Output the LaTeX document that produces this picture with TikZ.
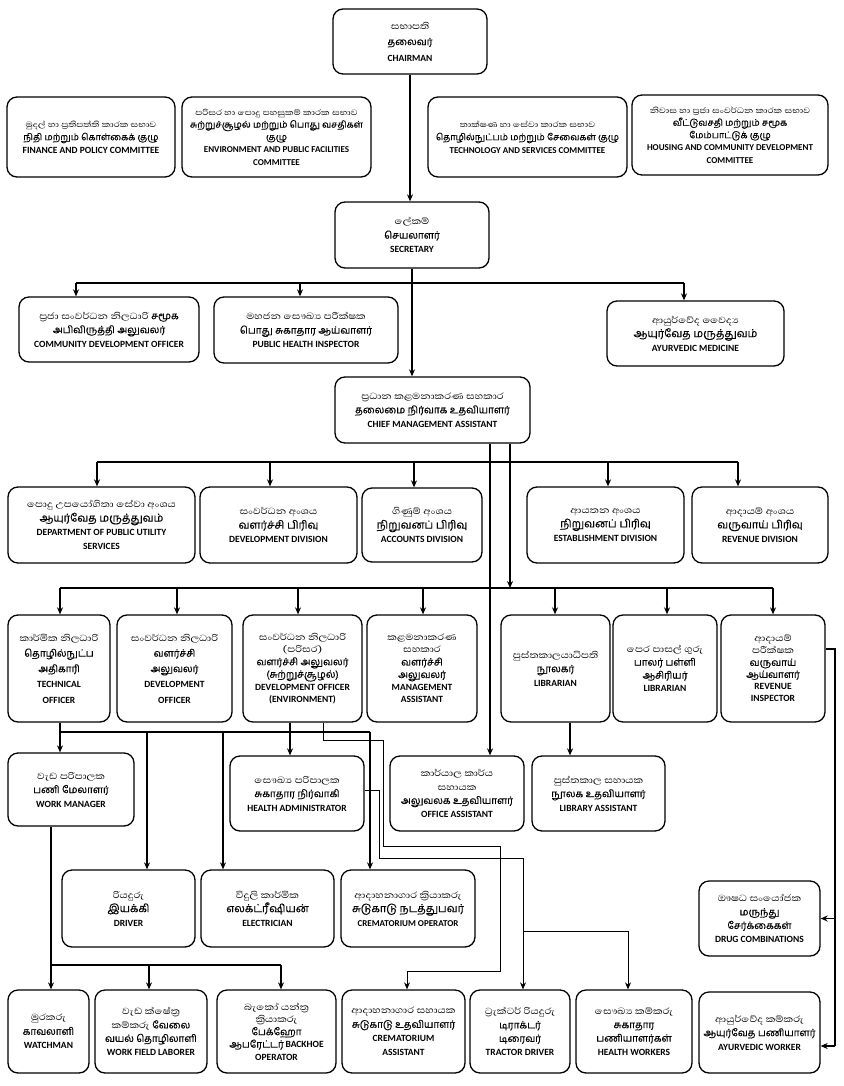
\documentclass[tikz,border=0pt]{standalone}
\usepackage{fontspec}
\setmainfont{Carlito}
\newfontfamily\sinf[Script=Sinhala,FakeStretch=1.2]{Abhaya Libre}
\newfontfamily\tamf[Script=Tamil,FakeBold=0.4]{Hind Madurai}
\usetikzlibrary{arrows.meta}
\newcommand\si[1]{{\sinf\fontsize{11.3}{13}\selectfont #1}}
\newcommand\siS[1]{{\sinf\fontsize{10}{13}\selectfont #1}}
\newcommand\ta[1]{{\tamf\fontsize{10}{13}\selectfont #1}}
\newcommand\taS[1]{{\tamf\fontsize{9.2}{13}\selectfont #1}}
\newcommand\taL[1]{{\tamf\fontsize{11}{13}\selectfont #1}}
\newcommand\en[1]{{\fontsize{9.5}{13}\selectfont\bfseries #1}}
\newcommand\enS[1]{{\fontsize{9}{13}\selectfont\bfseries #1}}
\newcommand\bs[1]{\fontsize{8}{#1}\selectfont\lineskiplimit=-50pt\lineskip=0pt}
\tikzset{
  box/.style={draw, rounded corners=10pt, line width=1.3pt, align=center, inner sep=1pt, font=\bs{14}},
  line/.style={line width=1.3pt},
  arr/.style={line width=1.3pt, -{Stealth[length=7pt,width=6pt]}},
  tline/.style={line width=1pt},
  tarr/.style={line width=1pt, -{Stealth[length=7pt,width=6pt]}}
}
\begin{document}
\begin{tikzpicture}[x=1pt,y=-1pt]
\fill[white] (0,0) rectangle (843,1086);
\useasboundingbox (0,0) rectangle (843,1086);

% row 0
\node[box,minimum width=154,minimum height=65,font=\bs{16}] (chair) at (410,41.5) {\si{සභාපති}\\\ta{தலைவர்}\\\en{CHAIRMAN}};
% committees
\node[box,minimum width=168,minimum height=80,font=\bs{13}] (fin) at (91,137) {\siS{මුදල් හා ප්^^^^200dරතිපත්ති කාරක සභාව}\\\taS{நிதி மற்றும் கொள்கைக் குழு}\\\en{FINANCE AND POLICY COMMITTEE}};
\node[box,minimum width=189,minimum height=80,font=\bs{12.5}] (env) at (276.5,137) {\siS{පරිසර හා පොදු පහසුකම් කාරක සභාව}\\\taS{சுற்றுச்சூழல் மற்றும் பொது வசதிகள்}\\\taS{குழு}\\\enS{ENVIRONMENT AND PUBLIC FACILITIES}\\\enS{COMMITTEE}};
\node[box,minimum width=199,minimum height=80,font=\bs{13}] (tech) at (527.5,137) {\siS{තාක්ෂණ හා සේවා කාරක සභාව}\\\taS{தொழில்நுட்பம் மற்றும் சேவைகள் குழு}\\\enS{TECHNOLOGY AND SERVICES COMMITTEE}};
\node[box,minimum width=196,minimum height=80,font=\bs{12.5}] (hous) at (730,135) {\siS{නිවාස හා ප්^^^^200dරජා සංවර්ධන කාරක සභාව}\\\taS{வீட்டுவசதி மற்றும் சமூக}\\\taS{மேம்பாட்டுக் குழு}\\\enS{HOUSING AND COMMUNITY DEVELOPMENT}\\\enS{COMMITTEE}};
% secretary
\node[box,minimum width=154,minimum height=66] (sec) at (412,235) {\si{ලේකම්}\\\ta{செயலாளர்}\\\en{SECRETARY}};
% row 2
\node[box,minimum width=180,minimum height=65] (cdo) at (109,329.5) {\si{ප්^^^^200dරජා සංවර්ධන නිලධාරි \ta{சமூக}}\\\ta{அபிவிருத்தி அலுவலர்}\\\en{COMMUNITY DEVELOPMENT OFFICER}};
\node[box,minimum width=184,minimum height=66] (phi) at (306,330) {\si{මහජන සෞඛ්^^^^200dය පරීක්ෂක}\\\ta{பொது சுகாதார ஆய்வாளர்}\\\en{PUBLIC HEALTH INSPECTOR}};
\node[box,minimum width=177,minimum height=65] (am) at (695.5,333.5) {\si{ආයුර්වේද වෛද්^^^^200dය}\\\taL{ஆயுர்வேத மருத்துவம்}\\\en{AYURVEDIC MEDICINE}};
% chief management assistant
\node[box,minimum width=195,minimum height=66] (cma) at (432.5,410) {\si{ප්^^^^200dරධාන කළමනාකරණ සහකාර}\\\ta{தலைமை நிர்வாக உதவியாளர்}\\\en{CHIEF MANAGEMENT ASSISTANT}};
% row 3
\node[box,minimum width=187,minimum height=76] (dpu) at (101.5,525) {\si{පොදු උපයෝගිතා සේවා අංශය}\\\taL{ஆயுர்வேத மருத்துவம்}\\\en{DEPARTMENT OF PUBLIC UTILITY}\\\en{SERVICES}};
\node[box,minimum width=157,minimum height=76] (devd) at (278.5,525) {\si{සංවර්ධන අංශය}\\\taL{வளர்ச்சி பிரிவு}\\\en{DEVELOPMENT DIVISION}};
\node[box,minimum width=120,minimum height=74] (acc) at (422,525) {\si{ගිණුම් අංශය}\\\taL{நிறுவனப் பிரிவு}\\\en{ACCOUNTS DIVISION}};
\node[box,minimum width=157,minimum height=76] (est) at (605.5,525) {\si{ආයතන අංශය}\\\taL{நிறுவனப் பிரிவு}\\\en{ESTABLISHMENT DIVISION}};
\node[box,minimum width=136,minimum height=76] (rev) at (760,525) {\si{ආදායම් අංශය}\\\taL{வருவாய் பிரிவு}\\\en{REVENUE DIVISION}};
% row 4
\node[box,minimum width=102,minimum height=107,font=\bs{15.5}] (tof) at (59,668.5) {\si{කාර්මික නිලධාරි}\\\ta{தொழில்நுட்ப}\\\ta{அதிகாரி}\\\en{TECHNICAL}\\\en{OFFICER}};
\node[box,minimum width=115,minimum height=107,font=\bs{15.5}] (dof) at (174.5,668.5) {\si{සංවර්ධන නිලධාරි}\\\ta{வளர்ச்சி}\\\ta{அலுவலர்}\\\en{DEVELOPMENT}\\\en{OFFICER}};
\node[box,minimum width=119,minimum height=107,font=\bs{12.5}] (doe) at (302.5,668.5) {\si{සංවර්ධන නිලධාරි}\\\si{(පරිසර)}\\\ta{வளர்ச்சி அலுவலர்}\\\ta{(சுற்றுச்சூழல்)}\\\en{DEVELOPMENT OFFICER}\\\en{(ENVIRONMENT)}};
\node[box,minimum width=110,minimum height=107,font=\bs{12.5}] (mas) at (422,668.5) {\si{කළමනාකරණ}\\\si{සහකාර}\\\ta{வளர்ச்சி}\\\ta{அலுவலர்}\\\en{MANAGEMENT}\\\en{ASSISTANT}};
\node[box,minimum width=109,minimum height=107] (lib) at (555.5,668.5) {\si{පුස්තකාලයාධිපති}\\\ta{நூலகர்}\\\en{LIBRARIAN}};
\node[box,minimum width=104,minimum height=107,font=\bs{13}] (pre) at (665,668.5) {\si{පෙර පාසල් ගුරු}\\\ta{பாலர் பள்ளி}\\\ta{ஆசிரியர்}\\\en{LIBRARIAN}};
\node[box,minimum width=104,minimum height=107,font=\bs{12}] (ri) at (773,668.5) {\si{ආදායම්}\\\si{පරීක්ෂක}\\\ta{வருவாய்}\\\ta{ஆய்வாளர்}\\\en{REVENUE}\\\en{INSPECTOR}};
% row 5
\node[box,minimum width=126,minimum height=73] (wm) at (71,789.5) {\si{වැඩ පරිපාලක}\\\ta{பணி மேலாளர்}\\\en{WORK MANAGER}};
\node[box,minimum width=134,minimum height=75] (ha) at (297,793.5) {\si{සෞඛ්^^^^200dය පරිපාලක}\\\ta{சுகாதார நிர்வாகி}\\\en{HEALTH ADMINISTRATOR}};
\node[box,minimum width=134,minimum height=75,font=\bs{13.5}] (oa) at (457,793.5) {\si{කාර්යාල කාර්ය}\\\si{සහායක}\\\ta{அலுவலக உதவியாளர்}\\\en{OFFICE ASSISTANT}};
\node[box,minimum width=133,minimum height=75] (la) at (598.5,793.5) {\si{පුස්තකාල සහායක}\\\ta{நூலக உதவியாளர்}\\\en{LIBRARY ASSISTANT}};
% row 6
\node[box,minimum width=133,minimum height=77] (drv) at (128.5,908.5) {\si{රියදුරු}\\\taL{இயக்கி}\\\en{DRIVER}};
\node[box,minimum width=133,minimum height=77] (ele) at (267.5,908.5) {\si{විදුලි කාර්මික}\\\taL{எலக்ட்ரீஷியன்}\\\en{ELECTRICIAN}};
\node[box,minimum width=134,minimum height=77] (cop) at (408,908.5) {\si{ආදාහනාගාර ක්^^^^200dරියාකරු}\\\taL{சுடுகாடு நடத்துபவர்}\\\enS{CREMATORIUM OPERATOR}};
\node[box,minimum width=121,minimum height=75,font=\bs{13.5}] (drug) at (759.5,918.5) {\si{ඖෂධ සංයෝජක}\\\ta{மருந்து}\\\ta{சேர்க்கைகள்}\\\en{DRUG COMBINATIONS}};
% row 7
\node[box,minimum width=81,minimum height=83] (wat) at (48.5,1031.5) {\si{මුරකරු}\\\ta{காவலாளி}\\\en{WATCHMAN}};
\node[box,minimum width=112,minimum height=83,font=\bs{13.5}] (wfl) at (151,1031.5) {\si{වැඩ ක්ෂේත්^^^^200dර}\\\si{කම්කරු \ta{வேலை}}\\\ta{வயல் தொழிலாளி}\\\en{WORK FIELD LABORER}};
\node[box,minimum width=119,minimum height=83,font=\bs{12.5}] (bho) at (276.5,1031.5) {\si{බැකෝ යන්ත්^^^^200dර}\\\si{ක්^^^^200dරියාකරු}\\\ta{பேக்ஹோ}\\\ta{ஆபரேட்டர்} \en{BACKHOE}\\\en{OPERATOR}};
\node[box,minimum width=123,minimum height=83] (cas) at (403.5,1031.5) {\si{ආදාහනාගාර සහායක}\\\ta{சுடுகாடு உதவியாளர்}\\\en{CREMATORIUM}\\\en{ASSISTANT}};
\node[box,minimum width=100,minimum height=83,font=\bs{13.5}] (trd) at (520,1031.5) {\si{ට්^^^^200dරැක්ටර් රියදුරු}\\\ta{டிராக்டர்}\\\ta{டிரைவர்}\\\en{TRACTOR DRIVER}};
\node[box,minimum width=116,minimum height=83,font=\bs{13.5}] (hw) at (634,1031.5) {\si{සෞඛ්^^^^200dය කම්කරු}\\\ta{சுகாதார}\\\ta{பணியாளர்கள்}\\\en{HEALTH WORKERS}};
\node[box,minimum width=121,minimum height=81] (aw) at (759.5,1032.5) {\si{ආයුර්වේද කම්කරු}\\\ta{ஆயுர்வேத பணியாளர்}\\\en{AYURVEDIC WORKER}};

% connectors
\draw[arr] (chair.south) -- (chair.south |- sec.north);
\draw[arr] (sec.south) -- (sec.south |- cma.north);
\draw[line] (76,283) -- (684,283);
\draw[arr] (76,283) -- (76,283 |- cdo.north);
\draw[arr] (300,283) -- (300,283 |- phi.north);
\draw[arr] (684,283) -- (684,283 |- am.north);

\coordinate (cA) at ([xshift=57.5pt]cma.south);
\coordinate (cB) at ([xshift=77.5pt]cma.south);
\draw[arr] (cA) -- (cA |- oa.north);
\draw[arr] (cB) -- (cB |- 0,588);
\draw[line] (97,462) -- (738,462);
\draw[arr] (97,462) -- (97,462 |- dpu.north);
\draw[arr] (270,462) -- (270,462 |- devd.north);
\draw[arr] (414,462) -- (414,462 |- acc.north);
\draw[arr] (608,462) -- (608,462 |- est.north);
\draw[arr] (738,462) -- (738,462 |- rev.north);

\draw[line] (60,588) -- (773,588);
\draw[arr] (60,588) -- (60,588 |- tof.north);
\draw[arr] (177,588) -- (177,588 |- dof.north);
\draw[arr] (298,588) -- (298,588 |- doe.north);
\draw[arr] (423,588) -- (423,588 |- mas.north);
\draw[arr] (555,588) -- (555,588 |- lib.north);
\draw[arr] (667,588) -- (667,588 |- pre.north);
\draw[arr] (773,588) -- (773,588 |- ri.north);

\draw[arr] (60,0 |- tof.south) -- (60,0 |- wm.north);
\draw[line] (60,732) -- (370,732);
\draw[arr] (147,732) -- (147,732 |- drv.north);
\draw[arr] (223,732) -- (223,732 |- ele.north);
\draw[arr] (370,732) -- (370,732 |- cop.north);

\draw[arr] (290,0 |- doe.south) -- (290,0 |- ha.north);
\draw[tarr] (323,0 |- doe.south) -- (323,740) -- (383,740) -- (383,846) -- (500,846) -- (500,971) -- (407,971) -- (407,0 |- cas.north);
\draw[tline] (ha.east |- 0,790) -- (379,790) -- (379,858) -- (523,858);
\draw[tarr] (523,858) -- (523,0 |- trd.north);
\draw[tarr] (523,931) -- (628,931) -- (628,0 |- hw.north);

\draw[arr] (570,0 |- lib.south) -- (570,0 |- la.north);

\draw[line] (ri.east |- 0,649) -- (835,649) -- (835,1046);
\draw[arr] (835,0 |- drug.east) -- (drug.east);
\draw[arr] (835,1046) -- (aw.east |- 0,1046);

\draw[line] (51,0 |- wm.south) -- (51,965) -- (281,965);
\draw[arr] (51,965) -- (51,0 |- wat.north);
\draw[arr] (149,965) -- (149,0 |- wfl.north);
\draw[arr] (281,965) -- (281,0 |- bho.north);
\end{tikzpicture}
\end{document}
